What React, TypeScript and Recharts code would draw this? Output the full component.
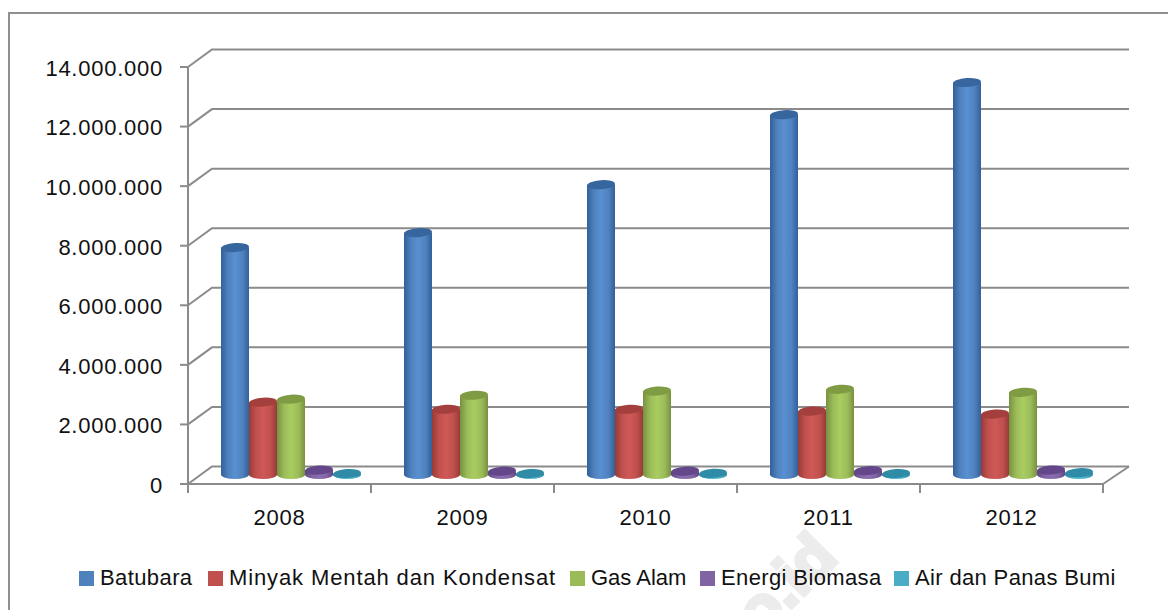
import { BarChart, Bar, XAxis, YAxis, CartesianGrid, Legend } from 'recharts'

const years = ['2008', '2009', '2010', '2011', '2012']
const batubara = [7620000, 8120000, 9730000, 12080000, 13160000]
const minyak = [2430000, 2190000, 2190000, 2130000, 2030000]
const gasAlam = [2530000, 2660000, 2800000, 2860000, 2760000]
const biomasa = [150000, 110000, 110000, 130000, 150000]
const panasBumi = [30000, 30000, 40000, 30000, 60000]
const yTicks = [0, 2000000, 4000000, 6000000, 8000000, 10000000, 12000000, 14000000]

const data = years.map((year, i) => ({
  year,
  batubara: batubara[i],
  minyak: minyak[i],
  gasAlam: gasAlam[i],
  biomasa: biomasa[i],
  panasBumi: panasBumi[i],
}))

const seriesList = [
  { key: 'batubara', name: 'Batubara', color: '#4f81bd', edge: '#31609a', light: '#5890d2', top: '#37659d' },
  { key: 'minyak', name: 'Minyak Mentah dan Kondensat', color: '#c0504d', edge: '#953b39', light: '#cf5957', top: '#a33f3c' },
  { key: 'gasAlam', name: 'Gas Alam', color: '#9bbb59', edge: '#77913f', light: '#a9cd60', top: '#7f9b44' },
  { key: 'biomasa', name: 'Energi Biomasa', color: '#8064a2', edge: '#5e4680', light: '#8c6eb2', top: '#64468a' },
  { key: 'panasBumi', name: 'Air dan Panas Bumi', color: '#4bacc6', edge: '#2f8aa3', light: '#52bcd8', top: '#2f8ba6' },
]

// legend layout, the source pdf spaces each label a little differently
const legendLeft = [79, 208, 570, 700, 894]
const legendSpacing = [0.4, 0.88, 0, 0.38, 0.35]

const GRID = '#8b8b8b'
const FONT = '"Liberation Sans", Arial, sans-serif'
// the 3D look: back wall offset and bars standing halfway into the depth
const WALL_DX = 24
const WALL_DX_RIGHT = 26
const WALL_DY = -17.5
const BAR_DX = 12
const BAR_DY = -9.5

const formatTick = (v: number) => String(v).replace(/\B(?=(\d{3})+(?!\d))/g, '.')

function WallLine(props: any) {
  const { x1, x2, y1, index } = props
  return (
    <g key={`wall-${index}`} stroke={GRID} strokeWidth={2} fill="none">
      <polyline points={`${x1},${y1} ${x1 + WALL_DX},${y1 + WALL_DY} ${x2 + WALL_DX_RIGHT},${y1 + WALL_DY}`} />
      {y1 > 480 ? <line x1={x2} y1={y1} x2={x2 + WALL_DX_RIGHT} y2={y1 + WALL_DY} /> : null}
    </g>
  )
}

function Cylinder(props: any) {
  const { x, y, width, height, seriesKey, topColor } = props
  const rx = width / 2
  const ry = 4.5
  const left = x + BAR_DX
  const top = y + BAR_DY
  const base = top + height
  return (
    <g>
      <path
        d={`M${left},${top} L${left},${base} A${rx},${ry} 0 0 0 ${left + width},${base} L${left + width},${top} Z`}
        fill={`url(#cyl-${seriesKey})`}
      />
      <ellipse
        cx={left + rx}
        cy={top}
        rx={rx}
        ry={ry}
        fill={topColor}
        transform={`rotate(-4 ${left + rx} ${top})`}
      />
    </g>
  )
}

function YearTick(props: any) {
  const { x, y, payload, index } = props
  const half = payload.offset ?? 91.5
  return (
    <g>
      {index === 0 ? <line x1={x - half} y1={y - 8} x2={x - half} y2={y + 1} stroke={GRID} strokeWidth={2} /> : null}
      <line x1={x + half} y1={y - 8} x2={x + half} y2={y + 1} stroke={GRID} strokeWidth={2} />
      <text x={x} y={y + 33} textAnchor="middle" fontSize={22} letterSpacing={0.8} fontFamily={FONT} fill="#111">
        {payload.value}
      </text>
    </g>
  )
}

function LegendRow() {
  return (
    <div style={{ position: 'relative', height: 26, fontFamily: FONT, fontSize: 22, color: '#111', whiteSpace: 'nowrap' }}>
      {seriesList.map((s, i) => (
        <div
          key={s.key}
          style={{ position: 'absolute', left: legendLeft[i], top: 0, height: 26, display: 'flex', alignItems: 'center', columnGap: 6, letterSpacing: legendSpacing[i] }}
        >
          <span style={{ width: 15, height: 15, background: s.color, display: 'inline-block' }} />
          <span>{s.name}</span>
        </div>
      ))}
    </div>
  )
}

export default function App() {
  return (
    <div style={{ position: 'absolute', left: 0, top: 0, width: 1168, height: 610, overflow: 'hidden', background: '#fff' }}>
      <div
        style={{
          position: 'absolute',
          left: 840,
          top: 560,
          fontFamily: FONT,
          fontWeight: 700,
          fontSize: 62,
          lineHeight: '62px',
          color: '#ececec',
          WebkitTextStroke: '4px #ececec',
          transform: 'rotate(-45deg) translate(-100%, -52.5px)',
          transformOrigin: '0 0',
          whiteSpace: 'nowrap',
        }}
      >
        go.id
      </div>
      <div style={{ position: 'absolute', left: 8, top: 12, width: 1160, height: 598, borderLeft: '2px solid #8f8f8f', borderTop: '2px solid #8f8f8f' }} />
      <div style={{ position: 'absolute', left: 0, top: 0 }}>
        <BarChart
          width={1168}
          height={610}
          data={data}
          margin={{ top: 67, right: 65, bottom: 86, left: 0 }}
          barGap={0}
          barCategoryGap={21}
        >
          <defs>
            {seriesList.map((s) => (
              <linearGradient key={s.key} id={`cyl-${s.key}`} x1="0" y1="0" x2="1" y2="0">
                <stop offset="0%" stopColor={s.edge} />
                <stop offset="25%" stopColor={s.color} />
                <stop offset="50%" stopColor={s.light} />
                <stop offset="78%" stopColor={s.color} />
                <stop offset="100%" stopColor={s.edge} />
              </linearGradient>
            ))}
          </defs>
          <CartesianGrid horizontal={WallLine as any} vertical={false} />
          <XAxis
            dataKey="year"
            height={40}
            interval={0}
            axisLine={{ stroke: GRID, strokeWidth: 2 }}
            tickLine={false}
            tick={YearTick as any}
          />
          <YAxis
            width={188}
            domain={[0, 14000000]}
            ticks={yTicks}
            interval={0}
            tickFormatter={formatTick}
            axisLine={{ stroke: GRID, strokeWidth: 2 }}
            tickLine={{ stroke: GRID, strokeWidth: 2 }}
            tickSize={8}
            tickMargin={17}
            tick={{ fontSize: 22, letterSpacing: 0.75, fontFamily: FONT, fill: '#111', dy: 1 }}
          />
          {seriesList.map((s) => (
            <Bar
              key={s.key}
              dataKey={s.key}
              name={s.name}
              fill={s.color}
              isAnimationActive={false}
              shape={(p: any) => <Cylinder {...p} seriesKey={s.key} topColor={s.top} />}
            />
          ))}
          <Legend
            layout="horizontal"
            verticalAlign="middle"
            align="center"
            content={LegendRow}
            wrapperStyle={{ position: 'absolute', left: 0, top: 565, width: 1168, height: 26, margin: 0 }}
          />
        </BarChart>
      </div>
    </div>
  )
}
